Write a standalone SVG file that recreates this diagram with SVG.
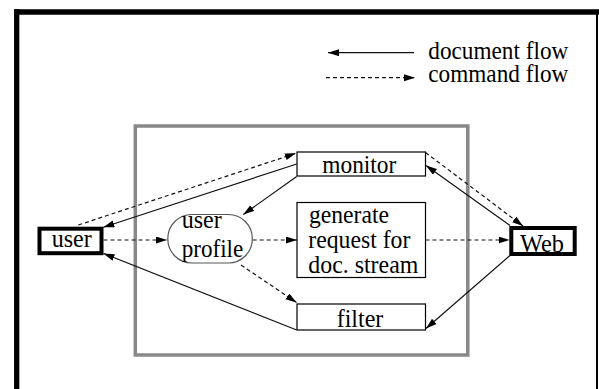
<svg xmlns="http://www.w3.org/2000/svg" width="599" height="389" viewBox="0 0 599 389">
<style>
text{font-family:'Liberation Serif','DejaVu Serif',serif;font-size:25px;fill:#000}
.box{fill:#fff;stroke:#000;stroke-width:1.2}
.thick{fill:#fff;stroke:#000;stroke-width:4}
.c{fill:none;stroke:#111;stroke-width:1.2;marker-end:url(#ah)}
.d{stroke-dasharray:4,3}
</style>
<defs>
<marker id="ah" markerUnits="userSpaceOnUse" markerWidth="12" markerHeight="8" refX="11" refY="3.5" orient="auto">
<path d="M0,0 L11,3.5 L0,7 z" fill="#000"/>
</marker>
</defs>
<rect x="0" y="0" width="599" height="389" fill="#fff"/>
<g id="frame" stroke="#000" fill="none">
<line x1="14" y1="12" x2="599" y2="12" stroke-width="5.4"/>
<line x1="16.7" y1="9.3" x2="16.7" y2="389" stroke-width="5.3"/>
<line x1="597" y1="12" x2="597" y2="389" stroke-width="2"/>
</g>
<g id="system">
<rect x="135.3" y="126" width="332.5" height="229" fill="none" stroke="#888" stroke-width="3.5"/>
</g>
<g id="legend">
<line class="c" x1="414" y1="52.7" x2="328" y2="52.7"/>
<line class="c d" x1="326" y1="77.7" x2="415" y2="77.7"/>
<text x="428.3" y="59.3" font-family="Liberation Serif, serif" textLength="140" lengthAdjust="spacingAndGlyphs">document flow</text>
<text x="428.3" y="82" font-family="Liberation Serif, serif" textLength="140" lengthAdjust="spacingAndGlyphs">command flow</text>
</g>
<g id="connectors">
<line class="c d" x1="78.3" y1="225" x2="296" y2="153.3"/>
<line class="c" x1="296.7" y1="164" x2="103.3" y2="227.3"/>
<line class="c" x1="296.7" y1="176.5" x2="243.3" y2="214.5"/>
<line class="c d" x1="103.5" y1="240" x2="167" y2="240"/>
<line class="c d" x1="252.7" y1="240" x2="297" y2="240"/>
<line class="c d" x1="241" y1="265" x2="296.5" y2="302.5"/>
<line class="c" x1="296.7" y1="330" x2="103.5" y2="253.5"/>
<line class="c d" x1="425.5" y1="152.5" x2="523" y2="226"/>
<line class="c" x1="510" y1="225.5" x2="426" y2="165.5"/>
<line class="c d" x1="425.5" y1="240" x2="509.5" y2="240"/>
<line class="c" x1="510" y1="255.5" x2="426" y2="328.5"/>
</g>
<g id="user">
<rect class="thick" x="39.5" y="228.7" width="62" height="24.5"/>
<text x="51.7" y="246.7" textLength="40" lengthAdjust="spacingAndGlyphs">user</text>
</g>
<g id="user-profile">
<rect x="167.8" y="214.5" width="84.5" height="48.5" rx="24" ry="24" fill="#fff" stroke="#555" stroke-width="1.2"/>
<text x="181.7" y="228" textLength="40" lengthAdjust="spacingAndGlyphs">user</text>
<text x="181.7" y="256.7" textLength="61.6" lengthAdjust="spacingAndGlyphs">profile</text>
</g>
<g id="monitor">
<rect class="box" x="297" y="152" width="128.5" height="24"/>
<text x="322.3" y="172.7" textLength="74" lengthAdjust="spacingAndGlyphs">monitor</text>
</g>
<g id="generate">
<rect class="box" x="297" y="202.5" width="128.5" height="75"/>
<text x="309" y="222.5" textLength="80" lengthAdjust="spacingAndGlyphs">generate</text>
<text x="308.3" y="248" textLength="102" lengthAdjust="spacingAndGlyphs">request for</text>
<text x="308.3" y="272.5" textLength="110" lengthAdjust="spacingAndGlyphs">doc. stream</text>
</g>
<g id="filter">
<rect class="box" x="297" y="304" width="128.5" height="26"/>
<text x="336.7" y="326.7" textLength="46.6" lengthAdjust="spacingAndGlyphs">filter</text>
</g>
<g id="web">
<rect class="thick" x="511.3" y="228" width="63.4" height="26"/>
<text x="520" y="251.7" textLength="44" lengthAdjust="spacingAndGlyphs">Web</text>
</g>
</svg>
